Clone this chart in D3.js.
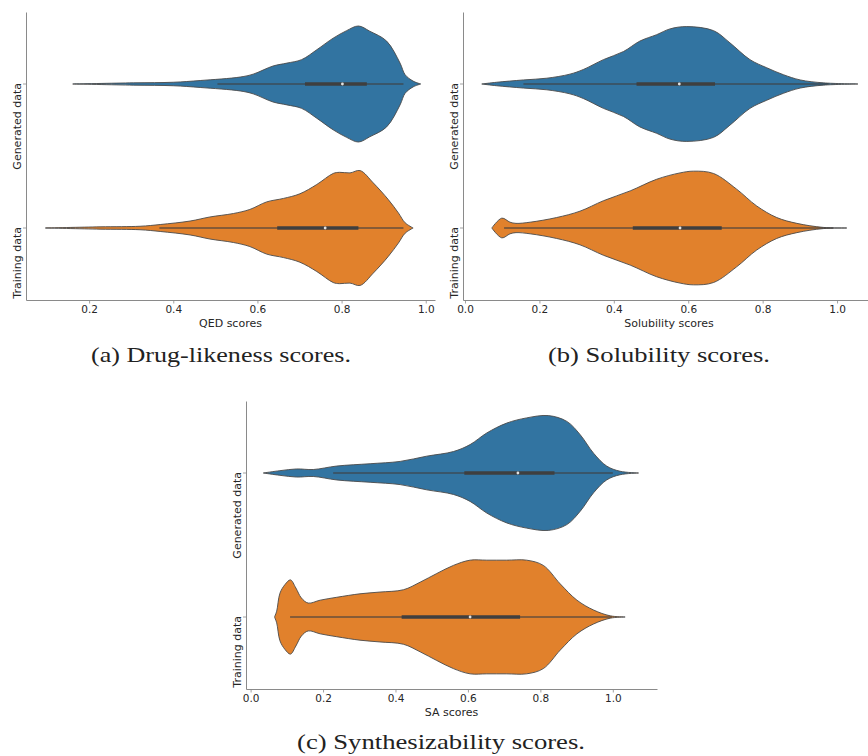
<!DOCTYPE html>
<html>
<head>
<meta charset="utf-8">
<script src="https://cdn.jsdelivr.net/npm/d3@7"></script>
<style>
  html, body { margin: 0; padding: 0; background: #fff; }
  svg { display: block; }
</style>
</head>
<body>
<svg id="chart" width="868" height="756"></svg>
<script>
// ---------------- DATA ----------------
const categories = ["Generated data", "Training data"];

// density outlines: [score, relative density]
const qedGenerated = [[0.161,0],[0.305,0.02],[0.40,0.03],[0.464,0.06],[0.559,0.12],[0.59,0.17],[0.637,0.31],[0.670,0.36],[0.705,0.42],[0.741,0.59],[0.780,0.79],[0.812,0.92],[0.840,1.0],[0.867,0.91],[0.907,0.74],[0.939,0.36],[0.951,0.16],[0.970,0.05],[0.988,0]];
const qedTraining = [[0.096,0],[0.226,0.02],[0.321,0.03],[0.369,0.06],[0.440,0.12],[0.487,0.19],[0.543,0.25],[0.582,0.32],[0.622,0.45],[0.662,0.51],[0.701,0.59],[0.741,0.75],[0.780,0.94],[0.795,0.96],[0.820,0.95],[0.844,0.99],[0.875,0.78],[0.911,0.49],[0.935,0.26],[0.951,0.09],[0.970,0]];
const solGenerated = [[0.045,0],[0.085,0.03],[0.157,0.07],[0.22,0.10],[0.282,0.17],[0.318,0.25],[0.372,0.42],[0.426,0.56],[0.470,0.74],[0.515,0.85],[0.551,0.95],[0.596,0.99],[0.668,0.92],[0.712,0.71],[0.766,0.42],[0.811,0.28],[0.856,0.16],[0.901,0.07],[0.963,0.02],[1.056,0]];
const solTraining = [[0.072,0],[0.099,0.17],[0.121,0.10],[0.137,0.08],[0.175,0.10],[0.246,0.18],[0.309,0.29],[0.372,0.47],[0.444,0.64],[0.515,0.84],[0.578,0.95],[0.614,0.98],[0.668,0.94],[0.730,0.67],[0.784,0.38],[0.838,0.18],[0.892,0.08],[0.963,0.01],[1.026,0]];
const saGenerated = [[0.035,0],[0.081,0.04],[0.127,0.07],[0.173,0.06],[0.238,0.12],[0.330,0.16],[0.413,0.20],[0.486,0.29],[0.560,0.37],[0.606,0.49],[0.652,0.69],[0.707,0.86],[0.762,0.95],[0.822,0.99],[0.873,0.89],[0.910,0.66],[0.947,0.34],[0.983,0.12],[1.020,0.03],[1.071,0]];
const saTraining = [[0.066,0],[0.072,0.10],[0.081,0.41],[0.095,0.56],[0.110,0.64],[0.125,0.50],[0.140,0.33],[0.159,0.24],[0.192,0.29],[0.238,0.34],[0.302,0.40],[0.357,0.43],[0.422,0.47],[0.468,0.60],[0.514,0.75],[0.560,0.89],[0.606,0.98],[0.652,0.98],[0.707,0.98],[0.762,0.98],[0.808,0.89],[0.855,0.57],[0.901,0.29],[0.947,0.12],[0.993,0.02],[1.034,0]];

// box stats: [whisker low, q1, median, q3, whisker high]
const qedGeneratedBox = [0.505, 0.713, 0.802, 0.860, 0.947];
const qedTrainingBox  = [0.367, 0.647, 0.761, 0.840, 0.947];
const solGeneratedBox = [0.157, 0.461, 0.576, 0.672, 0.977];
const solTrainingBox  = [0.105, 0.451, 0.578, 0.690, 0.990];
const saGeneratedBox  = [0.228, 0.590, 0.738, 0.839, 1.000];
const saTrainingBox   = [0.109, 0.417, 0.606, 0.744, 0.997];

const ticksQED = [0.2, 0.4, 0.6, 0.8, 1.0];
const ticksSol = [0.0, 0.2, 0.4, 0.6, 0.8, 1.0];
const ticksSA  = [0.0, 0.2, 0.4, 0.6, 0.8, 1.0];

const axisLabels = ["QED scores", "Solubility scores", "SA scores"];
const captions = ["(a) Drug-likeness scores.", "(b) Solubility scores.", "(c) Synthesizability scores."];
const colors = ["#3274a1", "#e1812c"];

// ---------------- LAYOUT ----------------
const panels = [
  { left: 26, right: 435, top: 12, bottom: 300, domain: [0.05, 1.022], ticks: ticksQED,
    label: axisLabels[0], caption: captions[0], capX: 221, capY: 362, capW: 260,
    violins: [qedGenerated, qedTraining], boxes: [qedGeneratedBox, qedTrainingBox] },
  { left: 463, right: 875, top: 12, bottom: 300, domain: [-0.0054, 1.102], ticks: ticksSol,
    label: axisLabels[1], caption: captions[1], capX: 659, capY: 362, capW: 222,
    violins: [solGenerated, solTraining], boxes: [solGeneratedBox, solTrainingBox] },
  { left: 246, right: 657, top: 401, bottom: 689, domain: [-0.0127, 1.122], ticks: ticksSA,
    label: axisLabels[2], caption: captions[2], capX: 441, capY: 749, capW: 288,
    violins: [saGenerated, saTraining], boxes: [saGeneratedBox, saTrainingBox] }
];

const svg = d3.select("#chart");
svg.append("rect").attr("width", 868).attr("height", 756).attr("fill", "#fff");

const spineColor = "#8a8a8a";
const textColor = "#262626";
const fontSans = "'DejaVu Sans', sans-serif";

panels.forEach(p => {
  const g = svg.append("g");
  const x = d3.scaleLinear().domain(p.domain).range([p.left, p.right]);
  const y = d3.scaleBand().domain(categories).range([p.top, p.bottom]).padding(0);
  const w = d3.scaleLinear().domain([0, 1]).range([0, 58]);

  // violins
  p.violins.forEach((dens, i) => {
    const cy = y(categories[i]) + y.bandwidth() / 2;
    const area = d3.area()
      .x(d => x(d[0]))
      .y0(d => cy - w(d[1]))
      .y1(d => cy + w(d[1]))
      .curve(d3.curveCatmullRom.alpha(0.5));
    g.append("path").datum(dens)
      .attr("d", area)
      .attr("fill", colors[i])
      .attr("stroke", "#4a4a4a")
      .attr("stroke-width", 0.9)
      .attr("stroke-linejoin", "round");

    const b = p.boxes[i];
    g.append("line")
      .attr("x1", x(b[0])).attr("x2", x(b[4]))
      .attr("y1", cy).attr("y2", cy)
      .attr("stroke", "#3f3f3f").attr("stroke-opacity", 0.75).attr("stroke-width", 1.3);
    g.append("line")
      .attr("x1", x(b[1])).attr("x2", x(b[3]))
      .attr("y1", cy).attr("y2", cy)
      .attr("stroke", "#3f3f3f").attr("stroke-width", 3.6);
    g.append("circle")
      .attr("cx", x(b[2])).attr("cy", cy).attr("r", 1.4)
      .attr("fill", "#fff").attr("fill-opacity", 0.85);
  });

  // x axis
  const xa = g.append("g").attr("transform", `translate(0,${p.bottom})`)
    .call(d3.axisBottom(x).tickValues(p.ticks).tickFormat(d3.format(".1f"))
      .tickSize(3.5).tickPadding(2.5).tickSizeOuter(0));
  xa.select(".domain").attr("stroke", spineColor).attr("stroke-width", 1);
  xa.selectAll(".tick line").attr("stroke", spineColor).attr("stroke-width", 0.8);
  xa.selectAll(".tick text").attr("fill", textColor)
    .style("font-family", fontSans).style("font-size", "10.5px");

  // y axis
  const ya = g.append("g").attr("transform", `translate(${p.left},0)`)
    .call(d3.axisLeft(y).tickSize(3).tickSizeOuter(0).tickFormat(""));
  ya.select(".domain").attr("stroke", spineColor).attr("stroke-width", 1);
  ya.selectAll(".tick line").attr("stroke", spineColor).attr("stroke-width", 0.8);

  categories.forEach(c => {
    const cy = y(c) + y.bandwidth() / 2;
    g.append("text")
      .attr("transform", `translate(${p.left - 5.5},${cy - 1}) rotate(-90)`)
      .attr("text-anchor", "end")
      .attr("fill", textColor)
      .style("font-family", fontSans).style("font-size", "11px")
      .text(c);
  });

  // axis label
  g.append("text")
    .attr("x", (p.left + p.right) / 2)
    .attr("y", p.bottom + 27)
    .attr("text-anchor", "middle")
    .attr("fill", textColor)
    .style("font-family", fontSans).style("font-size", "11px")
    .text(p.label);

  // caption
  svg.append("text")
    .attr("x", p.capX - p.capW / 2).attr("y", p.capY)
    .attr("text-anchor", "start")
    .attr("textLength", p.capW)
    .attr("lengthAdjust", "spacingAndGlyphs")
    .attr("fill", "#222")
    .style("font-family", "'Liberation Serif', 'DejaVu Serif', serif")
    .style("font-size", "21px")
    .text(p.caption);
});
</script>
</body>
</html>
